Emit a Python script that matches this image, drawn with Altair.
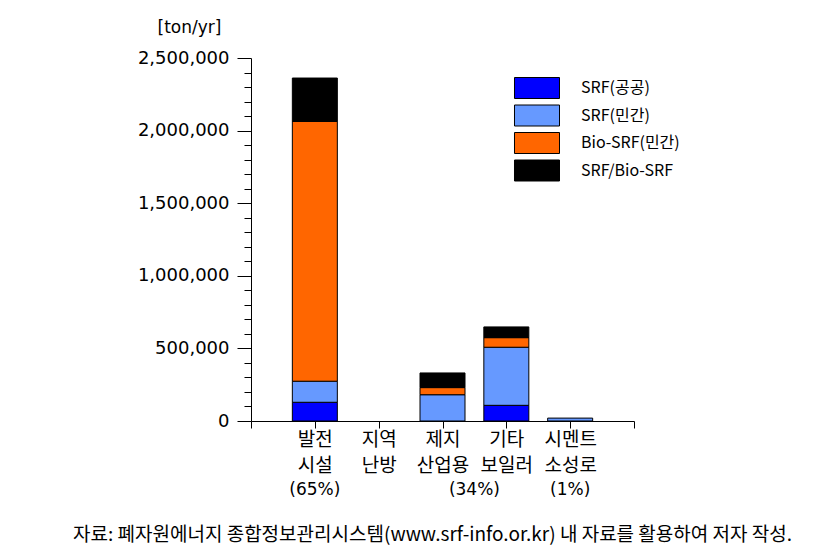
import altair as alt
import pandas as pd

# ---- data ----
positions = [1, 2, 3, 4, 5]
label_line1 = ["발전", "지역", "제지", "기타", "시멘트"]
label_line2 = ["시설", "난방", "산업용", "보일러", "소성로"]
series = ["SRF(공공)", "SRF(민간)", "Bio-SRF(민간)", "SRF/Bio-SRF"]
colors = ["#0000FF", "#6699FF", "#FF6600", "#000000"]
srf_public = [129000, 0, 0, 108000, 0]
srf_private = [145000, 0, 181000, 400000, 20000]
bio_private = [1789000, 0, 49000, 66000, 0]
srf_bio = [299000, 0, 101000, 74000, 0]
pct_pos = [1, 3.5, 5]
pct_text = ["(65%)", "(34%)", "(1%)"]
y_ticks = list(range(0, 2500001, 100000))
caption = "자료: 폐자원에너지 종합정보관리시스템(www.srf-info.or.kr) 내 자료를 활용하여 저자 작성."

rows = []
for s_i, (name, vals) in enumerate(zip(series, [srf_public, srf_private, bio_private, srf_bio])):
    for p, v in zip(positions, vals):
        if v > 0:
            rows.append({"pos": p, "series": name, "value": v, "ord": s_i})
df = pd.DataFrame(rows)
pct_df = pd.DataFrame({"pos": pct_pos, "text": pct_text})

expr_parts = []
for p, a, b in zip(positions, label_line1, label_line2):
    expr_parts.append(f"datum.value == {p} ? ['{a}', '{b}']")
x_label_expr = " : ".join(expr_parts) + " : ''"

W, H = 383, 363

bars = alt.Chart(df).mark_bar(size=45, stroke="black", strokeWidth=1).encode(
    x=alt.X("pos:Q", scale=alt.Scale(domain=[0, 6], nice=False, zero=False, padding=0),
            axis=alt.Axis(values=[0, 1, 2, 3, 4, 5, 6], labelExpr=x_label_expr, title=None,
                          grid=False, tickSize=7, tickColor="black", domainColor="black",
                          labelFont="Noto Sans CJK KR", labelFontSize=19, labelColor="black",
                          labelLineHeight=26, labelPadding=2, labelOverlap=False, labelFlush=False,
                          labelBaseline="top")),
    y=alt.Y("value:Q", stack="zero", scale=alt.Scale(domain=[0, 2500000], nice=False, padding=0),
            axis=alt.Axis(values=y_ticks, title="[ton/yr]", grid=False,
                          labelExpr="datum.value % 500000 === 0 ? format(datum.value, ',') : ''",
                          tickSize=alt.expr("datum.value % 500000 === 0 ? 14 : 7"),
                          tickColor="black", domainColor="black", labelOverlap=False, labelFlush=False,
                          labelFont="DejaVu Sans", labelFontSize=18, labelColor="black",
                          labelPadding=8,
                          titleAngle=0, titleAlign="center", titleBaseline="middle",
                          titleX=-62, titleY=-31, titleFont="DejaVu Sans", titleFontSize=17,
                          titleFontWeight="normal", titleColor="black")),
    color=alt.Color("series:N", scale=alt.Scale(domain=series, range=colors),
                    legend=alt.Legend(title=None, orient="none", legendX=275, legendY=19,
                                      symbolType="M-2.143,-1H2.143V1H-2.143Z", symbolSize=441,
                                      symbolStrokeColor="black", symbolStrokeWidth=1,
                                      symbolOpacity=1, labelOffset=33, rowPadding=1.5,
                                      labelFont="Noto Sans CJK KR", labelFontSize=16,
                                      labelColor="black")),
    order=alt.Order("ord:Q", sort="ascending"),
)

pct = alt.Chart(pct_df).mark_text(font="DejaVu Sans", fontSize=17, color="black",
                                   baseline="middle").encode(
    x=alt.X("pos:Q"),
    y=alt.value(432),
    text="text:N",
)

chart = alt.layer(bars, pct).properties(
    width=W, height=H,
    autosize=alt.AutoSizeParams(type="none"),
    padding={"left": 243, "top": 50, "right": 180, "bottom": 134},
    title=alt.TitleParams(caption, orient="bottom", anchor="middle", offset=28,
                          font="Noto Sans CJK KR", fontSize=19, fontWeight="normal",
                          color="black", dx=-10),
).configure_view(stroke=None)

chart.save("out.html", embed_options={"renderer": "svg", "actions": False})
